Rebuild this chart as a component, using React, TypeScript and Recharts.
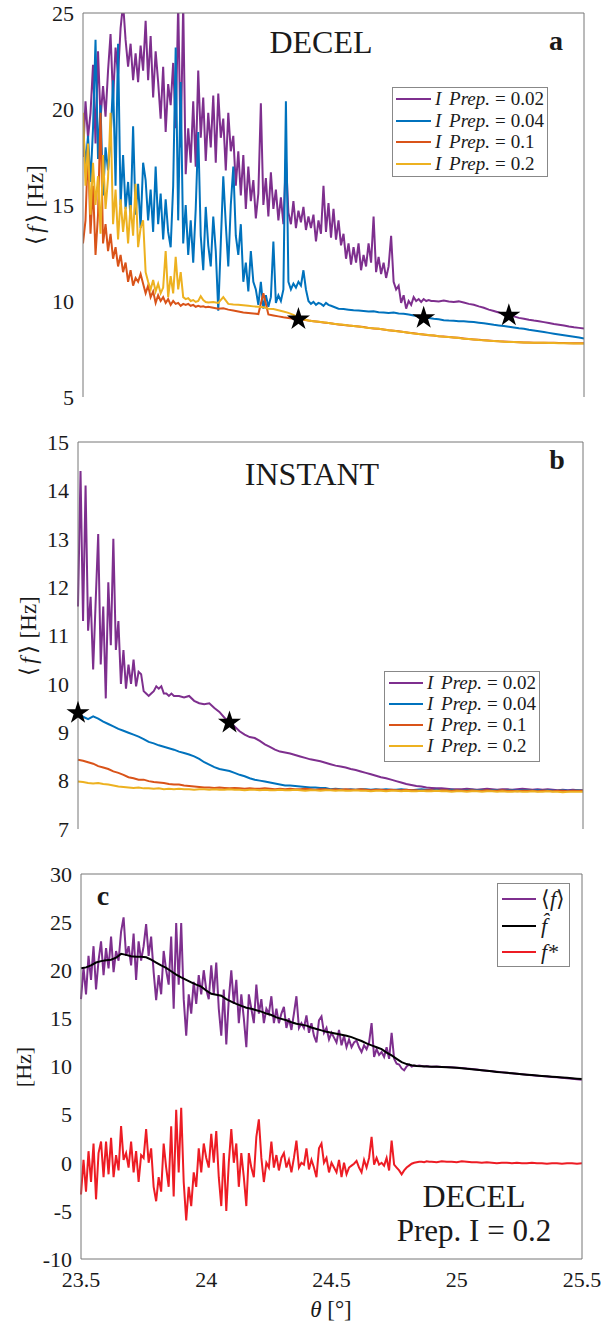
import React from 'react';
import { ComposedChart, Line, Scatter, XAxis, YAxis, Legend, Symbols } from 'recharts';

// sampling grid: fine part every 0.01 deg from 23.5, then coarse part every 0.02 deg up to 25.5
const THETA0 = 23.5;
const FINE = 0.01;
const COARSE = 0.02;
const thetaTicks = [23.5, 24, 24.5, 25, 25.5];

const prepNames = ['I Prep. = 0.02', 'I Prep. = 0.04', 'I Prep. = 0.1', 'I Prep. = 0.2'];
const prepColors = ['#7E2F8E', '#0072BD', '#D95319', '#EDB120'];

// ---- panel a (DECEL) ----
const aPurpleFine = [
  17.5, 20.4, 18.5, 19.8, 22.3, 18.2, 23.0, 19.5, 21.2, 19.6,
  22.0, 23.9, 20.5, 23.2, 21.8, 24.2, 25.5, 23.6, 22.2, 23.4,
  21.5, 22.9, 21.4, 23.3, 22.0, 24.6, 21.5, 23.8, 20.6, 23.0,
  21.4, 19.5, 22.2, 18.8, 21.3, 20.2, 22.4, 19.0, 25.5, 18.0,
  25.5, 16.6, 19.0, 17.2, 20.4, 17.0, 22.0, 18.5, 20.6, 17.3,
  19.8, 18.0, 20.7, 17.2, 20.8, 18.5, 19.5, 16.8, 19.8, 17.8,
  18.6, 16.0, 17.8, 15.5, 17.6, 14.8, 17.0, 15.2, 16.3, 14.3,
  15.6, 20.3, 15.0, 16.4, 14.4, 16.7, 14.8, 15.8, 14.2, 15.4,
  14.0, 17.4, 14.6, 14.0, 15.2, 13.8, 14.7, 14.1, 14.9, 13.7,
  14.4, 13.8, 14.5, 13.1, 14.2, 13.5, 16.0, 13.6, 15.1, 13.3,
  14.8, 13.2, 14.2, 12.9, 13.5, 12.2, 13.0, 11.9, 12.8, 12.0,
  13.0, 11.6, 12.4, 11.8, 13.0, 12.0, 14.4, 11.5, 12.3, 11.4,
  12.0, 11.2, 11.8, 13.4, 11.0, 10.6, 10.8, 9.9, 10.3, 9.6,
  10.0, 9.8, 10.2, 10.0, 10.1, 9.95, 10.1, 10.0, 10.05, 10.0,
];
const aPurpleCoarse = [
  10.0, 9.98, 10.02, 9.97, 9.95, 9.98, 9.92, 9.85, 9.8, 9.72,
  9.65, 9.55, 9.48, 9.4, 9.32, 9.25, 9.2, 9.12, 9.08, 9.02,
  8.98, 8.95, 8.9, 8.85, 8.8, 8.76, 8.72, 8.67, 8.63, 8.6,
  8.57,
];
const aBlueFine = [
  19.3, 17.0, 18.6, 16.2, 19.0, 23.6, 17.4, 20.2, 15.5, 18.0,
  16.8, 18.4, 21.5, 16.0, 23.4, 15.0, 17.6, 14.8, 16.2, 14.3,
  19.1, 14.5, 16.1, 13.8, 17.2, 16.3, 14.2, 15.8, 13.6, 17.0,
  14.0, 15.6, 13.2, 15.3, 13.6, 12.8, 16.0, 23.2, 14.2, 21.4,
  13.0, 15.0, 12.4, 14.2, 12.0, 14.8, 18.8, 13.4, 11.6, 14.9,
  12.9, 11.8, 14.4, 12.6, 9.5, 13.0, 16.5, 14.0, 11.8, 15.0,
  17.0, 13.4, 12.4, 14.0, 11.0, 12.0, 10.5, 12.6, 11.0, 10.6,
  9.8, 11.0, 9.6, 10.3, 9.7, 10.2, 13.1, 9.9, 10.3, 10.0,
  10.6, 20.4, 11.0, 10.6, 10.9, 10.7, 11.0, 10.8, 11.6, 10.6,
  10.0, 9.85, 9.95, 9.8, 9.9, 9.85, 9.75, 9.9, 9.8, 9.75,
];
const aBlueCoarse = [
  9.7, 9.6, 9.58, 9.55, 9.52, 9.5, 9.48, 9.45, 9.47, 9.42,
  9.4, 9.38, 9.4, 9.35, 9.33, 9.3, 9.25, 9.2, 9.15, 9.12,
  9.08, 9.05, 9.0, 8.98, 8.97, 8.95, 8.94, 8.92, 8.9, 8.87,
  8.84, 8.8, 8.76, 8.73, 8.7, 8.66, 8.62, 8.58, 8.55, 8.5,
  8.46, 8.42, 8.38, 8.34, 8.3, 8.26, 8.22, 8.18, 8.14, 8.1,
  8.05,
];
const aRedFine = [
  13.0, 14.2, 18.0, 13.5, 16.0, 12.4, 14.5, 19.8, 13.0, 14.0,
  12.6, 13.5, 12.2, 12.8, 11.8, 12.4, 11.5, 12.0, 11.0, 11.6,
  10.8, 11.2, 11.0, 11.4, 10.9, 10.4, 10.8, 10.2, 10.5, 9.9,
  10.3, 10.0, 10.2, 9.9, 10.1, 9.8, 10.0, 9.85, 9.9, 9.75,
  9.85, 9.8, 9.85, 9.75, 9.8, 9.7, 9.75, 9.7, 9.72, 9.68,
];
const aRedCoarse = [
  9.7, 9.65, 9.6, 9.62, 9.55, 9.5, 9.45, 9.4, 9.38, 9.35,
  9.32, 10.4, 9.3, 9.25, 9.2, 9.15, 9.12, 9.08, 9.05, 9.02,
  8.98, 8.95, 8.92, 8.88, 8.85, 8.82, 8.78, 8.75, 8.72, 8.7,
  8.67, 8.64, 8.6, 8.57, 8.55, 8.52, 8.48, 8.45, 8.42, 8.38,
  8.35, 8.32, 8.28, 8.25, 8.22, 8.2, 8.17, 8.15, 8.12, 8.1,
  8.08, 8.05, 8.02, 8.0, 7.98, 7.96, 7.94, 7.92, 7.9, 7.89,
  7.88, 7.86, 7.85, 7.84, 7.84, 7.83, 7.83, 7.82, 7.82, 7.82,
  7.81, 7.81, 7.8, 7.8, 7.8, 7.8,
];
const aYellowFine = [
  19.8, 16.0, 18.2, 14.5, 17.2, 15.0, 16.5, 13.5, 17.6, 14.8,
  16.4, 19.8, 14.0, 15.8, 13.2, 15.3, 13.6, 14.9, 13.0, 15.0,
  13.4, 16.1, 12.8, 13.8, 14.2, 11.5, 11.0, 10.6, 11.1, 10.5,
  10.9, 10.4, 10.7, 12.6, 10.2, 11.3, 10.4, 12.3, 10.6, 11.5,
  10.2, 10.1, 10.15, 10.0, 10.05, 9.95, 10.0, 10.25, 10.05, 9.95,
];
const aYellowCoarse = [
  9.92, 9.95, 9.9, 10.2, 9.85, 9.82, 9.8, 9.78, 9.75, 9.72,
  9.7, 9.68, 9.6, 9.58, 9.52, 9.45, 9.38, 9.28, 9.15, 9.05,
  8.98, 8.95, 8.92, 8.89, 8.86, 8.82, 8.79, 8.76, 8.73, 8.7,
  8.67, 8.63, 8.6, 8.58, 8.55, 8.51, 8.48, 8.45, 8.41, 8.38,
  8.35, 8.31, 8.28, 8.25, 8.23, 8.2, 8.17, 8.14, 8.12, 8.1,
  8.07, 8.04, 8.02, 8.0, 7.97, 7.95, 7.93, 7.92, 7.9, 7.88,
  7.87, 7.86, 7.85, 7.84, 7.83, 7.83, 7.82, 7.82, 7.81, 7.81,
  7.8, 7.8, 7.8, 7.79, 7.79, 7.79,
];
const aStars = [
  { x: 24.36, y: 9.05 },
  { x: 24.86, y: 9.12 },
  { x: 25.2, y: 9.25 },
];

// ---- panel b (INSTANT) ----
const bPurpleFine = [
  11.6, 14.4, 11.3, 14.1, 11.1, 11.8, 10.3, 11.7, 13.1, 10.4,
  11.6, 9.7, 12.1, 10.8, 13.0, 10.7, 11.3, 10.0, 10.7, 9.9,
  10.4, 10.0, 10.5, 9.95, 10.25, 10.2, 9.85, 9.8, 9.75, 9.8,
  9.85, 9.95, 9.9, 9.95, 9.8, 9.8, 9.75, 9.8, 9.75, 9.75,
];
const bPurpleCoarse = [
  9.75, 9.72, 9.75, 9.65, 9.6, 9.58, 9.6, 9.5, 9.42, 9.3,
  9.22, 9.12, 9.02, 8.95, 8.9, 8.88, 8.82, 8.75, 8.7, 8.64,
  8.6, 8.58, 8.56, 8.53, 8.5, 8.47, 8.44, 8.42, 8.4, 8.37,
  8.34, 8.31, 8.29, 8.27, 8.24, 8.22, 8.19, 8.16, 8.13, 8.1,
  8.07, 8.05, 8.02, 7.99, 7.96, 7.93, 7.91, 7.89, 7.88, 7.86,
  7.85, 7.84, 7.84, 7.83, 7.82, 7.82, 7.82, 7.83, 7.82, 7.81,
  7.82, 7.83, 7.82, 7.81, 7.82, 7.82, 7.81, 7.82, 7.83, 7.82,
  7.81, 7.82, 7.81, 7.82, 7.81, 7.8, 7.81, 7.8, 7.81, 7.8,
  7.8,
];
const bBlue = [
  9.4, 9.32, 9.27, 9.33, 9.28, 9.22, 9.17, 9.12, 9.07, 9.03,
  8.99, 8.95, 8.91, 8.86, 8.8, 8.77, 8.73, 8.7, 8.67, 8.64,
  8.6, 8.57, 8.54, 8.5, 8.45, 8.38, 8.33, 8.28, 8.24, 8.22,
  8.2, 8.16, 8.12, 8.09, 8.05, 8.02, 8.0, 7.98, 7.96, 7.94,
  7.92, 7.9, 7.9, 7.89, 7.88, 7.87, 7.86, 7.86, 7.85, 7.85,
  7.82, 7.83, 7.82, 7.81, 7.82, 7.81, 7.82, 7.82, 7.81, 7.82,
  7.81, 7.82, 7.81, 7.81, 7.82, 7.81, 7.8, 7.81, 7.82, 7.81,
  7.8, 7.81, 7.8, 7.8, 7.81, 7.8, 7.79, 7.8, 7.81, 7.8,
  7.8, 7.79, 7.8, 7.8, 7.79, 7.8, 7.8, 7.79, 7.8, 7.8,
  7.79, 7.8, 7.79, 7.8, 7.79, 7.79, 7.8, 7.79, 7.79, 7.8,
  7.79,
];
const bRed = [
  8.43, 8.41, 8.38, 8.35, 8.3, 8.27, 8.24, 8.19, 8.16, 8.12,
  8.07, 8.05, 8.02, 8.02, 7.99, 7.97, 7.96, 7.95, 7.93, 7.92,
  7.92, 7.9, 7.89, 7.88, 7.87, 7.86, 7.86, 7.85, 7.86, 7.85,
  7.84, 7.85, 7.84, 7.83, 7.84, 7.83, 7.83, 7.84, 7.83, 7.82,
  7.83, 7.82, 7.83, 7.82, 7.82, 7.83, 7.82, 7.81, 7.82, 7.82,
  7.81, 7.82, 7.81, 7.82, 7.81, 7.81, 7.82, 7.81, 7.8, 7.81,
  7.81, 7.8, 7.81, 7.8, 7.8, 7.81, 7.8, 7.8, 7.79, 7.8,
  7.8, 7.79, 7.8, 7.8, 7.79, 7.8, 7.79, 7.79, 7.8, 7.79,
  7.79, 7.8, 7.79, 7.79, 7.8, 7.79, 7.79, 7.78, 7.79, 7.79,
  7.79, 7.78, 7.79, 7.79, 7.78, 7.79, 7.79, 7.78, 7.79, 7.79,
  7.79,
];
const bYellow = [
  7.98, 7.97, 7.95, 7.94, 7.95, 7.93, 7.92, 7.9, 7.88, 7.87,
  7.86, 7.85, 7.86, 7.84, 7.84, 7.83, 7.84, 7.82, 7.83, 7.82,
  7.83, 7.82, 7.82, 7.81, 7.82, 7.82, 7.81, 7.82, 7.81, 7.81,
  7.82, 7.81, 7.81, 7.8, 7.81, 7.81, 7.8, 7.81, 7.8, 7.8,
  7.81, 7.8, 7.8, 7.81, 7.8, 7.79, 7.8, 7.8, 7.79, 7.8,
  7.8, 7.79, 7.8, 7.79, 7.79, 7.8, 7.79, 7.79, 7.78, 7.79,
  7.79, 7.78, 7.79, 7.79, 7.78, 7.79, 7.78, 7.78, 7.79, 7.78,
  7.78, 7.79, 7.78, 7.78, 7.77, 7.78, 7.78, 7.77, 7.78, 7.78,
  7.77, 7.78, 7.78, 7.77, 7.78, 7.77, 7.77, 7.78, 7.77, 7.77,
  7.78, 7.77, 7.77, 7.78, 7.77, 7.77, 7.76, 7.77, 7.77, 7.77,
  7.77,
];
const bStars = [
  { x: 23.5, y: 9.4 },
  { x: 24.1, y: 9.2 },
];

// ---- panel c (DECEL, Prep. I = 0.2) ----
const cNames = ['mean', 'smooth', 'fluct'];
const cColors = ['#7E2F8E', '#000000', '#ED1C24'];
const cMeanFine = [
  17.0, 20.3, 17.5, 21.5, 19.0, 22.5, 18.0, 21.0, 23.0, 19.5,
  22.3, 20.2, 23.5, 19.8, 22.0, 21.0, 24.0, 25.5, 21.5, 22.5,
  20.5, 23.8, 19.0, 23.0, 21.0, 22.5, 24.8, 21.5, 23.5, 19.8,
  16.9, 19.5, 17.5, 22.0, 20.0, 18.5, 23.5, 16.0, 24.9, 18.5,
  24.9, 17.0, 13.2, 17.5, 15.5, 18.8, 16.5, 19.5, 17.5, 20.0,
  18.0, 17.0, 20.5, 17.5, 20.8, 16.0, 13.2, 18.0, 12.3, 17.0,
  20.0, 16.5, 19.0, 14.5, 17.5, 15.0, 12.0, 17.5, 16.0, 14.5,
  18.5, 15.5, 17.0, 14.5, 16.0, 15.5, 17.3, 14.5, 16.0, 14.5,
  15.5, 16.2, 14.0, 15.0, 13.8, 15.5, 17.3, 14.0, 14.5, 14.0,
  15.3, 13.5, 14.5, 13.2, 12.5, 14.8, 15.2, 13.5, 14.0, 12.8,
  13.5, 13.0, 12.5, 13.8, 12.2, 13.2, 12.0, 12.8, 12.0, 12.5,
  12.7, 12.0, 11.5, 12.2, 11.8, 12.5, 14.5, 11.0, 11.8, 11.2,
  11.5, 11.0, 12.0, 10.8, 13.5, 10.8, 10.3, 10.2, 9.8, 9.6,
  10.0, 10.2, 10.0, 10.1, 10.05, 10.1, 10.05, 10.0, 10.05, 10.0,
];
const cMeanCoarse = [
  9.98, 10.0, 9.95, 9.96, 9.92, 9.88, 9.84, 9.78, 9.74, 9.68,
  9.62, 9.56, 9.5, 9.45, 9.4, 9.34, 9.29, 9.24, 9.2, 9.15,
  9.1, 9.05, 9.0, 8.96, 8.92, 8.87, 8.82, 8.77, 8.72, 8.67,
  8.62,
];
const cSmooth = [
  20.2, 20.3, 20.5, 20.8, 20.95, 21.05, 21.1, 21.3, 21.7, 21.6,
  21.45, 21.4, 21.4, 21.35, 21.1, 20.8, 20.5, 20.25, 19.9, 19.55,
  19.25, 19.0, 18.75, 18.5, 18.3, 17.9, 17.55, 17.45, 17.35, 17.0,
  16.75, 16.5, 16.3, 16.1, 16.0, 15.85, 15.7, 15.5, 15.35, 15.1,
  14.95, 14.8, 14.6, 14.45, 14.35, 14.25, 14.05, 13.9, 13.75, 13.6,
  13.5, 13.4, 13.3, 13.2, 13.05, 12.85, 12.65, 12.4, 12.2, 12.0,
  11.8, 11.45, 11.15, 10.8, 10.45, 10.25, 10.12, 10.05, 10.03, 10.0,
  9.98, 9.97, 9.95, 9.93, 9.9, 9.87, 9.82, 9.77, 9.72, 9.66,
  9.6, 9.55, 9.5, 9.44, 9.39, 9.34, 9.3, 9.25, 9.2, 9.15,
  9.11, 9.06, 9.02, 8.98, 8.94, 8.9, 8.86, 8.82, 8.78, 8.74,
  8.7,
];
const cFluctFine = [
  -3.3, 0.3, -3.0, 1.2, -2.0, 2.0, -3.8, 1.0, 2.2, -1.5,
  2.2, -1.2, 2.6, -1.5, 0.8, -0.8, 3.8, 0.3, 1.0, -0.5,
  2.2, -1.0, 1.2, -2.0, 0.8, 0.5, 3.5, 0.0, 1.5, -2.5,
  -4.0, -1.5, -3.0, 2.0, -0.5, -2.5, 3.8, -3.5, 5.5, -1.0,
  5.7, -2.0, -6.0, -2.5, -4.5, -1.0, -2.5, 1.5, -1.0, 2.0,
  0.5, -0.5, 3.0, 0.0, 3.3, -1.5, -4.5, 1.0, -5.0, 0.0,
  3.5, 0.0, 2.0, -2.5, 1.0, -1.5, -4.5, 1.0, -0.5, -1.5,
  2.7, 4.5, 0.5, -2.0, 0.0, -0.5, 2.2, -0.5, 0.8, -0.8,
  0.5, 1.0, -0.5, 0.3, -1.0, 0.5, 2.3, -0.5, 0.0, -0.2,
  1.5, -0.7, 0.3, -0.5, -1.5, 1.5, 2.0, 0.0, 0.5, -1.0,
  0.0, -0.5, -1.0, 0.3, -1.5, 0.0, -1.2, -0.5, -0.3, -0.1,
  0.2, -0.5, -1.0, 0.3, -0.5, 0.5, 2.7, -0.2, 0.5, -0.2,
  0.0, -0.3, 0.5, -0.8, 2.3, -0.2, -0.5, -0.8, -1.2, -0.8,
  -0.5, -0.3, -0.1, 0.0, 0.05, 0.1, 0.1, 0.05, 0.15, 0.1,
];
const cFluctCoarse = [
  0.1, 0.05, 0.15, 0.1, 0.1, 0.05, 0.15, 0.1, 0.05, 0.05,
  0.0, 0.05, 0.0, -0.05, 0.0, 0.0, -0.05, 0.0, -0.05, -0.05,
  0.0, -0.05, -0.05, -0.1, -0.05, -0.05, -0.1, -0.05, -0.05, -0.1,
  -0.05,
];

type Pt = { x: number; y: number };

const toPoints = (fine: number[], coarse: number[]): Pt[] => {
  const pts = fine.map((y, i) => ({ x: +(THETA0 + i * FINE).toFixed(3), y }));
  const start = THETA0 + fine.length * FINE;
  coarse.forEach((y, j) => pts.push({ x: +(start + j * COARSE).toFixed(3), y }));
  return pts;
};

const aSeries = [
  toPoints(aPurpleFine, aPurpleCoarse),
  toPoints(aBlueFine, aBlueCoarse),
  toPoints(aRedFine, aRedCoarse),
  toPoints(aYellowFine, aYellowCoarse),
];
const bSeries = [
  toPoints(bPurpleFine, bPurpleCoarse),
  toPoints([], bBlue),
  toPoints([], bRed),
  toPoints([], bYellow),
];
const cSeries = [
  toPoints(cMeanFine, cMeanCoarse),
  toPoints([], cSmooth),
  toPoints(cFluctFine, cFluctCoarse),
];

const FONT = 'Liberation Serif';
const INK = '#1a1a1a';
const AXIS = '#777';
const tickFont = { fontSize: 22, fill: INK, fontFamily: FONT };

const boxAxes = (yDomain: [number, number], yTicks: number[], yWidth: number, showX: boolean, clip: boolean) => [
  <XAxis key="xb" xAxisId="m" dataKey="x" type="number" domain={[23.5, 25.5]} ticks={thetaTicks} allowDataOverflow={clip}
    interval={0} height={showX ? 65 : 0} tickLine={false} tickSize={0} tickMargin={12}
    tick={showX ? tickFont : false} axisLine={{ stroke: AXIS }} />,
  <XAxis key="xbt" xAxisId="bt" dataKey="x" type="number" domain={[23.5, 25.5]} ticks={thetaTicks} allowDataOverflow
    interval={0} mirror tick={false} tickSize={5} tickLine={{ stroke: AXIS }} axisLine={false} />,
  <XAxis key="xt" xAxisId="t" dataKey="x" type="number" orientation="top" domain={[23.5, 25.5]} ticks={thetaTicks}
    allowDataOverflow interval={0} mirror tick={false} tickSize={5} tickLine={{ stroke: AXIS }} axisLine={{ stroke: AXIS }} />,
  <YAxis key="yl" yAxisId="m" dataKey="y" type="number" domain={yDomain} ticks={yTicks} allowDataOverflow={clip}
    interval={0} width={yWidth} tickLine={false} tickSize={0} tickMargin={9}
    tick={tickFont} axisLine={{ stroke: AXIS }} />,
  <YAxis key="ylt" yAxisId="lt" type="number" domain={yDomain} ticks={yTicks} allowDataOverflow interval={0}
    mirror tick={false} tickSize={5} tickLine={{ stroke: AXIS }} axisLine={false} />,
  <YAxis key="yr" yAxisId="r" type="number" orientation="right" domain={yDomain} ticks={yTicks} allowDataOverflow
    interval={0} mirror tick={false} tickSize={5} tickLine={{ stroke: AXIS }} axisLine={{ stroke: AXIS }} />,
];

const renderStar = (p: any) => <Symbols cx={p.cx} cy={p.cy} type="star" size={165} fill="#000" />;

const legendBox: React.CSSProperties = {
  background: '#fff',
  border: '1px solid #888',
  fontFamily: FONT,
  color: INK,
  boxSizing: 'border-box',
};

const prepLegend = (rowH: number, lineW: number, pad: number) => (props: any) => {
  const items = [...(props.payload || [])]
    .filter((p: any) => prepNames.includes(p.value))
    .sort((a: any, b: any) => prepNames.indexOf(a.value) - prepNames.indexOf(b.value));
  return (
    <div style={{ ...legendBox, width: '100%', height: '100%', paddingLeft: pad }}>
      {items.map((p: any) => {
        const [lhs, rhs] = String(p.value).split(' = ');
        return (
          <div key={p.value} style={{ display: 'flex', alignItems: 'center', height: rowH, fontSize: 19, whiteSpace: 'nowrap' }}>
            <span style={{ width: lineW, height: 2, background: p.color, marginRight: 4, flex: 'none' }} />
            <span style={{ fontStyle: 'italic', wordSpacing: 3 }}>{lhs}</span>
            <span style={{ margin: '0 5px' }}>=</span>
            <span>{rhs}</span>
          </div>
        );
      })}
    </div>
  );
};

const cLabel = (name: string) => {
  if (name === 'mean') return <span>⟨<i>f</i>⟩</span>;
  if (name === 'smooth') return <i>f&#770;</i>;
  return <i>f*</i>;
};

const cLegend = (props: any) => {
  const items = [...(props.payload || [])]
    .filter((p: any) => cNames.includes(p.value))
    .sort((a: any, b: any) => cNames.indexOf(a.value) - cNames.indexOf(b.value));
  return (
    <div style={{ ...legendBox, width: '100%', height: '100%', paddingLeft: 4, paddingTop: 2 }}>
      {items.map((p: any) => (
        <div key={p.value} style={{ display: 'flex', alignItems: 'center', height: 26.5, fontSize: 22 }}>
          <span style={{ width: 34, height: 2, background: p.color, marginRight: 5, flex: 'none' }} />
          {cLabel(p.value)}
        </div>
      ))}
    </div>
  );
};

const meanHzTitle = (cx: number, cy: number) => (
  <text transform={`translate(${cx},${cy}) rotate(-90)`} fontSize={23} textAnchor="middle" dominantBaseline="central">
    ⟨<tspan dx={3} fontStyle="italic">f</tspan><tspan dx={3}>⟩</tspan><tspan dx={7}>[Hz]</tspan>
  </text>
);

export default function App() {
  return (
    <div style={{ position: 'absolute', left: 0, top: 0, width: 605, height: 1324, background: '#fff', fontFamily: FONT }}>
      {/* a */}
      <div style={{ position: 'absolute', left: 0, top: 0 }}>
        <ComposedChart width={605} height={420} margin={{ top: 13, right: 21, bottom: 23, left: 0 }} style={{ fontFamily: FONT }}>
          {boxAxes([5, 25], [5, 10, 15, 20, 25], 83, false, true)}
          {aSeries.map((d, i) => (
            <Line key={prepNames[i]} name={prepNames[i]} data={d} dataKey="y" xAxisId="m" yAxisId="m" type="linear"
              stroke={prepColors[i]} strokeWidth={2} dot={false} isAnimationActive={false} />
          ))}
          <Scatter data={aStars} dataKey="y" xAxisId="m" yAxisId="m" legendType="none" shape={renderStar} isAnimationActive={false} />
          <Legend layout="vertical" align="center" verticalAlign="middle" content={prepLegend(21.7, 35, 3)}
            wrapperStyle={{ left: 392, top: 87, width: 156, height: 90 }} />
        </ComposedChart>
      </div>

      {/* b */}
      <div style={{ position: 'absolute', left: 0, top: 420 }}>
        <ComposedChart width={605} height={430} margin={{ top: 22, right: 22, bottom: 21, left: 0 }} style={{ fontFamily: FONT }}>
          {boxAxes([7, 15], [7, 8, 9, 10, 11, 12, 13, 14, 15], 78, false, false)}
          {bSeries.map((d, i) => (
            <Line key={prepNames[i]} name={prepNames[i]} data={d} dataKey="y" xAxisId="m" yAxisId="m" type="linear"
              stroke={prepColors[i]} strokeWidth={2} dot={false} isAnimationActive={false} />
          ))}
          <Scatter data={bStars} dataKey="y" xAxisId="m" yAxisId="m" legendType="none" shape={renderStar} isAnimationActive={false} />
          <Legend layout="vertical" align="center" verticalAlign="middle" content={prepLegend(21, 34, 4)}
            wrapperStyle={{ left: 384, top: 251, width: 156, height: 91 }} />
        </ComposedChart>
      </div>

      {/* c */}
      <div style={{ position: 'absolute', left: 0, top: 850 }}>
        <ComposedChart width={605} height={474} margin={{ top: 24, right: 23, bottom: 0, left: 0 }} style={{ fontFamily: FONT }}>
          {boxAxes([-10, 30], [-10, -5, 0, 5, 10, 15, 20, 25, 30], 81, true, false)}
          {cSeries.map((d, i) => (
            <Line key={cNames[i]} name={cNames[i]} data={d} dataKey="y" xAxisId="m" yAxisId="m" type="linear"
              stroke={cColors[i]} strokeWidth={2} dot={false} isAnimationActive={false} />
          ))}
          <Legend layout="vertical" align="center" verticalAlign="middle" content={cLegend}
            wrapperStyle={{ left: 497, top: 33, width: 73, height: 84 }} />
        </ComposedChart>
      </div>

      <svg width={605} height={1324} style={{ position: 'absolute', left: 0, top: 0, pointerEvents: 'none' }}
        fontFamily={FONT} fill={INK}>
        <text x={321} y={53} fontSize={32} textAnchor="middle">DECEL</text>
        <text x={556} y={50} fontSize={28} fontWeight="bold" textAnchor="middle">a</text>
        {meanHzTitle(35, 205)}

        <text x={312} y={485} fontSize={32} textAnchor="middle">INSTANT</text>
        <text x={557} y={469} fontSize={28} fontWeight="bold" textAnchor="middle">b</text>
        {meanHzTitle(28, 636)}

        <text x={103} y={905} fontSize={28} fontWeight="bold" textAnchor="middle">c</text>
        <text x={474} y={1207} fontSize={32} textAnchor="middle">DECEL</text>
        <text x={474} y={1241} fontSize={31} textAnchor="middle">Prep. I = 0.2</text>
        <text transform="translate(23,1067) rotate(-90)" fontSize={22} textAnchor="middle" dominantBaseline="central">
          [Hz]
        </text>
        <text x={331} y={1317} fontSize={23} textAnchor="middle">
          <tspan fontStyle="italic">θ</tspan> [°]
        </text>
      </svg>
    </div>
  );
}
